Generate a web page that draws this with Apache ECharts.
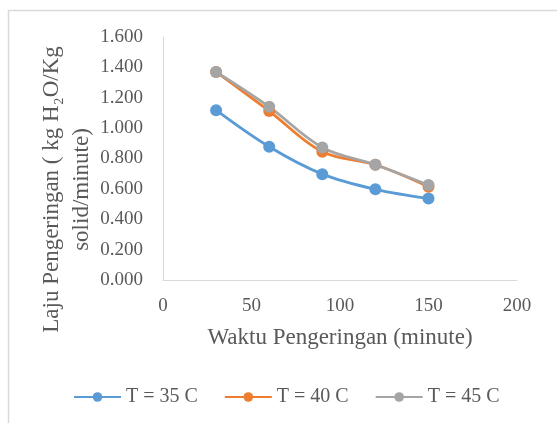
<!DOCTYPE html>
<html><head><meta charset="utf-8">
<script src="https://cdn.jsdelivr.net/npm/echarts@6/dist/echarts.min.js"></script>
<style>html,body{margin:0;padding:0;background:#fff}#c{width:557px;height:423px}</style>
</head><body><div id="c"></div>
<script>
const times = [30, 60, 90, 120, 150];
const t35 = [1.118, 0.877, 0.697, 0.597, 0.537];
const t40 = [1.370, 1.112, 0.844, 0.759, 0.614];
const t45 = [1.370, 1.140, 0.873, 0.759, 0.625];
const seriesNames = ['T = 35 C', 'T = 40 C', 'T = 45 C'];
const colors = ['#5b9bd5', '#ed7d31', '#a5a5a5'];
const xTitle = 'Waktu Pengeringan (minute)';
const yTitle = 'Laju Pengeringan ( kg H₂O/Kg\nsolid/minute)';

const font = '"Liberation Serif", "Times New Roman", serif';
const chart = echarts.init(document.getElementById('c'));
const mk = (name, vals, color) => ({
  name, type: 'line', smooth: 0.35,
  data: times.map((t, i) => [t, vals[i]]),
  symbol: 'circle', symbolSize: 12,
  lineStyle: { width: 2.8, color }, itemStyle: { color },
  z: 2
});
chart.setOption({
  animation: false,
  textStyle: { fontFamily: font },
  graphic: [
    { type: 'line', shape: { x1: 8, y1: 10.5, x2: 557, y2: 10.5 }, style: { stroke: '#d9d9d9', lineWidth: 1.5 } },
    { type: 'line', shape: { x1: 8.5, y1: 10, x2: 8.5, y2: 423 }, style: { stroke: '#d9d9d9', lineWidth: 1.5 } }
  ],
  grid: { left: 163, top: 37, right: 40, bottom: 143, containLabel: false, outerBoundsMode: 'none' },
  xAxis: {
    type: 'value', min: 0, max: 200, interval: 50,
    axisLine: { show: true, lineStyle: { color: '#d9d9d9', width: 1 } },
    axisTick: { show: false }, splitLine: { show: false },
    axisLabel: { color: '#595959', fontSize: 19, fontFamily: font, margin: 17 },
    name: xTitle, nameLocation: 'middle', nameGap: 46, nameMoveOverlap: false,
    nameTextStyle: { color: '#595959', fontSize: 23, fontFamily: font }
  },
  yAxis: {
    type: 'value', min: 0, max: 1.6, interval: 0.2,
    axisLine: { show: true, lineStyle: { color: '#d9d9d9', width: 1 } },
    axisTick: { show: false }, splitLine: { show: false },
    axisLabel: { color: '#595959', fontSize: 19, fontFamily: font, margin: 20,
      formatter: v => v.toFixed(3) },
    name: yTitle, nameLocation: 'middle', nameGap: 66, nameRotate: 90, nameMoveOverlap: false,
    nameTextStyle: { color: '#595959', fontSize: 23, fontFamily: font, lineHeight: 30,
      align: 'center', padding: [0, 62, 0, 0] }
  },
  legend: {
    bottom: 11, left: 68, itemWidth: 47, itemHeight: 12, itemGap: 26,
    data: seriesNames,
    textStyle: { color: '#595959', fontSize: 20, fontFamily: font }
  },
  series: [mk(seriesNames[0], t35, colors[0]), mk(seriesNames[1], t40, colors[1]), mk(seriesNames[2], t45, colors[2])]
});
</script></body></html>
